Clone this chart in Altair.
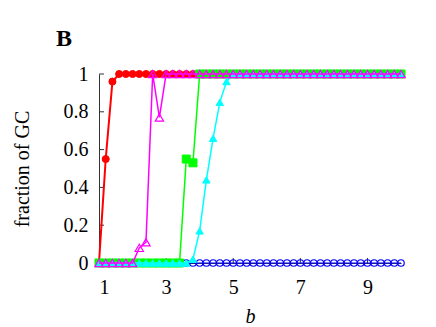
import altair as alt
import pandas as pd

b_values = [1.0, 1.2, 1.4, 1.6, 1.8, 2.0, 2.2, 2.4, 2.6, 2.8,
            3.0, 3.2, 3.4, 3.6, 3.8, 4.0, 4.2, 4.4, 4.6, 4.8,
            5.0, 5.2, 5.4, 5.6, 5.8, 6.0, 6.2, 6.4, 6.6, 6.8,
            7.0, 7.2, 7.4, 7.6, 7.8, 8.0, 8.2, 8.4, 8.6, 8.8,
            9.0, 9.2, 9.4, 9.6, 9.8, 10.0]

red = [0.0, 0.55, 0.96] + [1.0] * 43
blue = [0.0] * 46
green = [0.0] * 13 + [0.55, 0.53] + [1.0] * 31
cyan = [0.0] * 14 + [0.02, 0.17, 0.44, 0.66, 0.85, 0.96] + [1.0] * 26
magenta = [0.0] * 6 + [0.08, 0.11, 1.0, 0.77] + [1.0] * 36

x_ticks = [1, 3, 5, 7, 9]
y_ticks = [0, 0.2, 0.4, 0.6, 0.8, 1]

W, H = 302, 189
FONT = "Liberation Serif"

x_scale = alt.Scale(domain=[1, 10], nice=False, zero=False)
y_scale = alt.Scale(domain=[0, 1], nice=False)

x_axis = alt.Axis(values=x_ticks, tickSize=0, labelPadding=14, grid=False,
                  title="b", titleFontStyle="italic",
                  titleBaseline="alphabetic", titleY=59)
y_axis = alt.Axis(values=y_ticks, tickSize=0, labelPadding=11, grid=False,
                  format="~g", title="fraction of GC",
                  titleBaseline="middle", titleX=-77, titleY=H / 2)

XENC = alt.X("b:Q", scale=x_scale, axis=x_axis)
YENC = alt.Y("v:Q", scale=y_scale, axis=y_axis)


def series(vals, color, shape, filled, size, lw):
    df = pd.DataFrame({"b": b_values, "v": vals})
    base = alt.Chart(df)
    line = base.mark_line(color=color, strokeWidth=lw).encode(x=XENC, y=YENC)
    if filled:
        pts = base.mark_point(shape=shape, filled=True, fill=color, color=color,
                              stroke=color, strokeWidth=1, size=size, opacity=1)
    else:
        pts = base.mark_point(shape=shape, filled=False, color=color,
                              stroke=color, strokeWidth=1.2, size=size, opacity=1)
    pts = pts.encode(x=XENC, y=YENC)
    return [line, pts]


layers = []
layers += series(red, "#ff0000", "circle", True, 50, 2)
layers += series(blue, "#0000ff", "circle", False, 42, 1.2)
layers += series(green, "#00ff00", "square", True, 64, 1.5)
layers += series(cyan, "#00ffff", "triangle-up", True, 55, 1.5)
layers += series(magenta, "#ff00ff", "triangle-up", False, 70, 1.5)

xt = alt.Chart(pd.DataFrame({"b": x_ticks})).mark_rule(color="#333", strokeWidth=1).encode(
    x=XENC, y=alt.value(H), y2=alt.value(H - 5))
yt = alt.Chart(pd.DataFrame({"v": y_ticks})).mark_rule(color="#333", strokeWidth=1).encode(
    y=YENC, x=alt.value(0), x2=alt.value(5))
label = alt.Chart(pd.DataFrame({"t": ["B"]})).mark_text(
    font=FONT, fontSize=24, fontWeight="bold", align="left", baseline="alphabetic",
    color="black").encode(text="t:N", x=alt.value(-43), y=alt.value(-28))

chart = alt.layer(xt, yt, *layers, label).properties(
    width=W, height=H,
    autosize=alt.AutoSizeParams(type="none"),
    padding={"left": 91, "top": 66, "right": 27, "bottom": 62},
).configure_view(stroke=None).configure_axis(
    grid=False, labelFont=FONT, labelFontSize=20, labelColor="black",
    titleFont=FONT, titleFontSize=20, titleFontWeight="normal", titleColor="black",
    domainColor="#333", domainWidth=1,
)

chart.save("out.html", embed_options={"renderer": "svg", "actions": False})
